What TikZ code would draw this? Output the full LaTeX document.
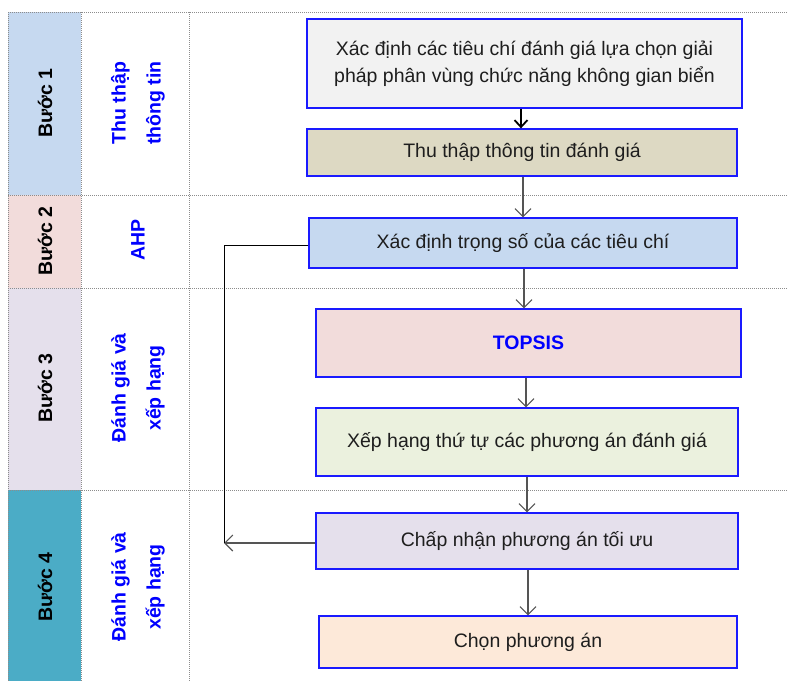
\documentclass[tikz,border=0pt]{standalone}
\usepackage{fontspec}
\setmainfont{Liberation Sans}
\usetikzlibrary{arrows.meta}
\definecolor{cOne}{HTML}{C6D9F0}
\definecolor{cTwo}{HTML}{F2DCDB}
\definecolor{cThree}{HTML}{E5E0EC}
\definecolor{cFour}{HTML}{4BACC6}
\definecolor{fA}{HTML}{F2F2F2}
\definecolor{fB}{HTML}{DDD9C3}
\definecolor{fC}{HTML}{C6D9F0}
\definecolor{fD}{HTML}{F2DCDB}
\definecolor{fE}{HTML}{EBF1DE}
\definecolor{fF}{HTML}{E5E0EC}
\definecolor{fG}{HTML}{FDE9D9}
\definecolor{txt}{HTML}{1E1E1E}
\definecolor{bord}{HTML}{1A1AFF}
\definecolor{arr}{HTML}{555555}
\definecolor{grid}{HTML}{8C8C8C}
\tikzset{
  stepbox/.style={draw=bord, line width=1.3pt, rectangle, inner sep=0pt, text=txt,
    align=center, font=\fontsize{19.5}{27}\selectfont},
  steplabel/.style={rotate=90, font=\bfseries\fontsize{19.5}{24}\selectfont, text=black, inner sep=0pt},
  phaselabel/.style={rotate=90, font=\bfseries\fontsize{19.5}{35}\selectfont, text=blue, align=center, inner sep=0pt},
  gridline/.style={draw=grid, line width=0.9pt, dash pattern=on 1pt off 1pt},
  flow/.style={draw=arr, line width=1.1pt, -{Straight Barb[length=8pt,width=16pt,line width=1.1pt]}},
  flowbold/.style={draw=black, line width=1.8pt, -{Straight Barb[length=7pt,width=13pt,line width=1.8pt]}},
}
\begin{document}
\begin{tikzpicture}[x=1pt,y=-1pt]
\useasboundingbox (0,0) rectangle (787,681);
% column fills
\fill[cOne] (8,12) rectangle (81,195);
\fill[cTwo] (8,195) rectangle (81,288);
\fill[cThree] (8,288) rectangle (81,490);
\fill[cFour] (8,490) rectangle (81,681);
% grid
\draw[gridline] (8,12) -- (787,12);
\draw[gridline] (8,195) -- (787,195);
\draw[gridline] (8,288) -- (787,288);
\draw[gridline] (8,490) -- (787,490);
\draw[gridline] (8,12) -- (8,681);
\draw[gridline] (81,12) -- (81,681);
\draw[gridline] (189,12) -- (189,681);
% step labels
\node[steplabel] (s1) at (45,103) {Bước 1};
\node[steplabel] (s2) at (45,241) {Bước 2};
\node[steplabel] (s3) at (45,388) {Bước 3};
\node[steplabel] (s4) at (45,587) {Bước 4};
% phase labels
\node[phaselabel] (p1) at (138,103) {Thu thập\\thông tin};
\node[phaselabel] (p2) at (138,240) {AHP};
\node[phaselabel] (p3) at (138,388) {Đánh giá và\\xếp hạng};
\node[phaselabel] (p4) at (138,587) {Đánh giá và\\xếp hạng};
% boxes
\node[stepbox, fill=fA, minimum width=435pt, minimum height=89pt] (b1) at (524.5,63.5)
  {Xác định các tiêu chí đánh giá lựa chọn giải\\pháp phân vùng chức năng không gian biển};
\node[stepbox, fill=fB, minimum width=430pt, minimum height=47pt] (b2) at (522,152.5)
  {Thu thập thông tin đánh giá};
\node[stepbox, fill=fC, minimum width=428pt, minimum height=50pt] (b3) at (523,243)
  {Xác định trọng số của các tiêu chí};
\node[stepbox, fill=fD, minimum width=425pt, minimum height=68pt, text=blue, font=\bfseries\fontsize{19.5}{24}\selectfont] (b4) at (528.5,343)
  {TOPSIS};
\node[stepbox, fill=fE, minimum width=422pt, minimum height=68pt] (b5) at (527,442)
  {Xếp hạng thứ tự các phương án đánh giá};
\node[stepbox, fill=fF, minimum width=422pt, minimum height=56pt] (b6) at (527,541)
  {Chấp nhận phương án tối ưu};
\node[stepbox, fill=fG, minimum width=418pt, minimum height=52pt] (b7) at (528,642)
  {Chọn phương án};
% connectors
\draw[flowbold] (b1.south -| 521,0) -- (b2.north -| 521,0);
\draw[flow] (b2.south -| 523,0) -- (b3.north -| 523,0);
\draw[flow] (b3.south -| 524,0) -- (b4.north -| 524,0);
\draw[flow] (b4.south -| 526,0) -- (b5.north -| 526,0);
\draw[flow] (b5.south -| 527,0) -- (b6.north -| 527,0);
\draw[flow] (b6.south -| 528,0) -- (b7.north -| 528,0);
% feedback
\coordinate (fb) at (224,543);
\draw[flow] (b6.west |- fb) -- (fb);
\draw[black, line width=1pt] (b3.west |- 0,245) -| (fb);
\end{tikzpicture}
\end{document}
